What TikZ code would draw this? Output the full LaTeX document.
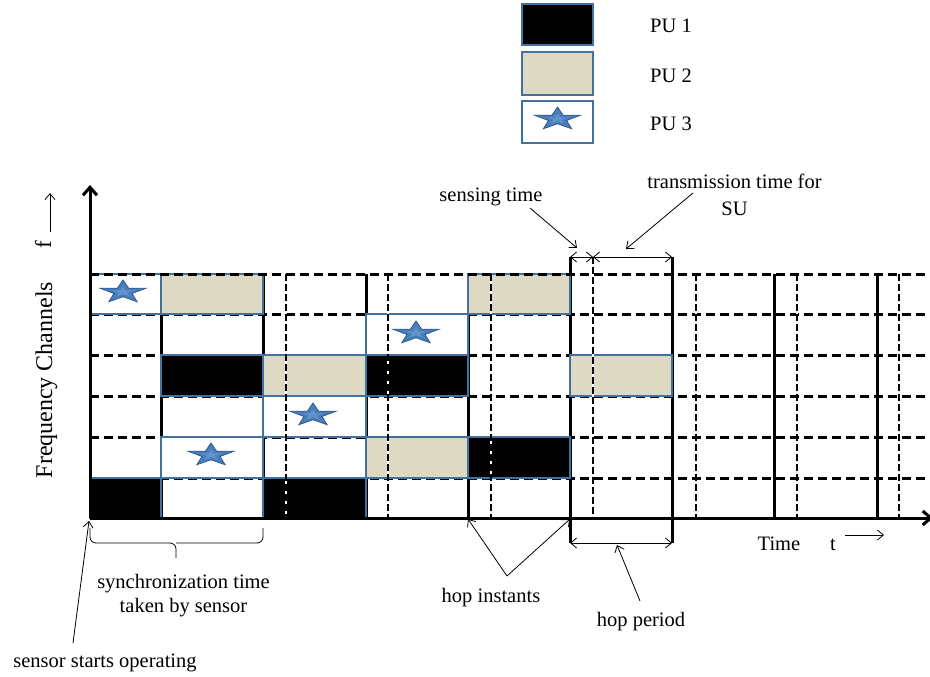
\documentclass[tikz,border=0pt]{standalone}
\usepackage{fontspec}
\setmainfont{Liberation Serif}
\usetikzlibrary{arrows.meta,calc}
\definecolor{cellblue}{RGB}{65,113,156}
\definecolor{pubeige}{RGB}{221,217,195}
\definecolor{starfill}{RGB}{74,126,187}
\definecolor{starlight}{RGB}{95,148,206}
\definecolor{staredge}{RGB}{47,90,140}
\tikzset{
  lbl/.style={font=\fontsize{20.5}{25}\selectfont, inner sep=0pt, anchor=base},
  hopline/.style={line width=3pt, black},
  gridh/.style={line width=3pt, dash pattern=on 9pt off 5pt},
  gridv/.style={line width=1.7pt, dash pattern=on 7pt off 3pt},
  gridvbg/.style={line width=1.7pt, white},
  cellbox/.style={draw=cellblue, line width=2.5pt},
  pu1/.style={cellbox, fill=black},
  pu2/.style={cellbox, fill=pubeige},
  pu3/.style={cellbox, fill=white},
  thinarrow/.style={line width=0.8pt, -{Straight Barb[length=6pt,width=10pt]}},
  thinline/.style={line width=0.8pt},
  dimarrow/.style={line width=0.8pt, {Straight Barb[length=6pt,width=10pt]}-{Straight Barb[length=6pt,width=10pt]}},
  axisline/.style={line width=3pt, -{Straight Barb[length=8pt,width=14pt]}},
  pustar/.pic={
    \filldraw[fill=starfill, draw=staredge, line width=0.8pt, yscale=-0.5]
      (90:24) -- (126:9.5) -- (162:24) -- (198:9.5) -- (234:24) -- (270:9.5)
      -- (306:24) -- (342:9.5) -- (18:24) -- (54:9.5) -- cycle;
    \fill[starlight, yscale=-0.5, scale=0.45]
      (90:24) -- (126:9.5) -- (162:24) -- (198:9.5) -- (234:24) -- (270:9.5)
      -- (306:24) -- (342:9.5) -- (18:24) -- (54:9.5) -- cycle;
  }
}
\begin{document}
\begin{tikzpicture}[x=1pt,y=-1pt]
\useasboundingbox[fill=white] (0,0) rectangle (930,677);

% ---------- legend ----------
\draw[pu1] (522,4) rectangle (593,45);
\draw[pu2] (522,52) rectangle (593,95);
\draw[pu3] (522,101) rectangle (593,143);
\pic at (557.5,119) {pustar};
\node[lbl, anchor=base west] (l1) at (650,33) {PU 1};
\node[lbl, anchor=base west] (l2) at (650,83) {PU 2};
\node[lbl, anchor=base west] (l3) at (650,131) {PU 3};

% ---------- horizontal dashed grid ----------
\foreach \yy in {314,355,396,437,478}
  \draw[gridh] (90,\yy) -- (935,\yy);

% ---------- hop instants (solid) ----------
\foreach \xx in {161,263,366,468,774,877}
  \draw[hopline] (\xx,274) -- (\xx,518);
\draw[hopline] (570,257) -- (570,543);
\draw[hopline] (672,257) -- (672,543);

% ---------- occupied cells ----------
\draw[pu3] (90,274) rectangle (161,314);
\draw[pu1] (90,478) rectangle (161,518);
\draw[pu2] (161,274) rectangle (263,314);
\draw[pu1] (161,355) rectangle (263,396);
\draw[pu3] (161,437) rectangle (263,478);
\draw[pu2] (263,355) rectangle (366,396);
\draw[pu3] (263,396) rectangle (366,437);
\draw[pu1] (263,478) rectangle (366,518);
\draw[pu3] (366,314) rectangle (468,355);
\draw[pu1] (366,355) rectangle (468,396);
\draw[pu2] (366,437) rectangle (468,478);
\draw[pu2] (468,274) rectangle (570,314);
\draw[pu1] (468,437) rectangle (570,478);
\draw[pu2] (570,355) rectangle (672,396);

\pic at (123,292) {pustar};
\pic at (211,455) {pustar};
\pic at (313,415) {pustar};
\pic at (416,333) {pustar};

% top dashed line
\draw[gridh] (90,274) -- (935,274);

% ---------- sensing-time boundaries (dashed) ----------
\foreach \xx in {286,388,491,696,797,899} {
  \draw[gridvbg] (\xx,274) -- (\xx,518);
  \draw[gridv] (\xx,274) -- (\xx,518);
}
\draw[gridvbg] (593,257) -- (593,518);
\draw[gridv] (593,257) -- (593,518);

% ---------- axes ----------
\coordinate (o) at (90,518);
\coordinate (ytip) at (90,185);
\coordinate (xtip) at (933,518);
\draw[axisline] (o) -- (ytip);
\draw[axisline] (o) -- (xtip);

% ---------- axis labels ----------
\node[lbl, font=\fontsize{24}{28}\selectfont, rotate=90] (fc) at (52,380) {Frequency Channels};
\node[lbl, font=\fontsize{23}{27}\selectfont, rotate=90] (fl) at (51,245) {f};
\coordinate (fa1) at (50,232);
\coordinate (fa2) at (50,193);
\draw[thinarrow] (fa1) -- (fa2);

\node[lbl] (time) at (779,550) {Time};
\node[lbl] (tl) at (833,550) {t};
\coordinate (ta1) at (845,535);
\coordinate (ta2) at (884,535);
\draw[thinarrow] (ta1) -- (ta2);

% ---------- sensing / transmission time ----------
\coordinate (s1) at (570,257);
\coordinate (s2) at (593,257);
\coordinate (s3) at (672,257);
\draw[dimarrow] (s1) -- (s2);
\draw[dimarrow] (s2) -- (s3);

\node[lbl] (sens) at (491,201) {sensing time};
\node[lbl] (trans) at (734.5,188) {transmission time for};
\node[lbl] (su) at (734.5,215) {SU};
\coordinate (sensfrom) at (530,208);
\coordinate (sensto) at (577,248);
\draw[thinarrow] (sensfrom) -- (sensto);
\coordinate (transfrom) at (693,193);
\coordinate (transto) at (626,249);
\draw[thinarrow] (transfrom) -- (transto);

% ---------- hop period ----------
\coordinate (h1) at (570,543);
\coordinate (h2) at (672,543);
\draw[dimarrow] (h1) -- (h2);
\node[lbl] (hp) at (641,626) {hop period};
\coordinate (hpfrom) at (640,601);
\coordinate (hpto) at (617,545);
\draw[thinarrow] (hpfrom) -- (hpto);

% ---------- hop instants ----------
\node[lbl] (hi) at (491,602) {hop instants};
\coordinate (hij) at (507,576);
\coordinate (hi1) at (468,519);
\coordinate (hi2) at (570,519);
\draw[thinarrow] (hij) -- (hi1);
\draw[thinarrow] (hij) -- (hi2);

% ---------- synchronization brace ----------
\coordinate (b1) at (90,528);
\coordinate (b2) at (263,528);
\coordinate (bm) at (176,543);
\coordinate (btip) at (176,558);
\draw[thinline, rounded corners=6pt] (b1) |- (bm) -- (btip);
\draw[thinline, rounded corners=6pt] (b2) |- (bm);
\node[lbl] (sync1) at (183.5,588) {synchronization time};
\node[lbl] (sync2) at (183.5,612) {taken by sensor};

\node[lbl] (start) at (105,667) {sensor starts operating};
\coordinate (stfrom) at (73,643);
\coordinate (stto) at (89,521);
\draw[thinarrow] (stfrom) -- (stto);
\end{tikzpicture}
\end{document}
